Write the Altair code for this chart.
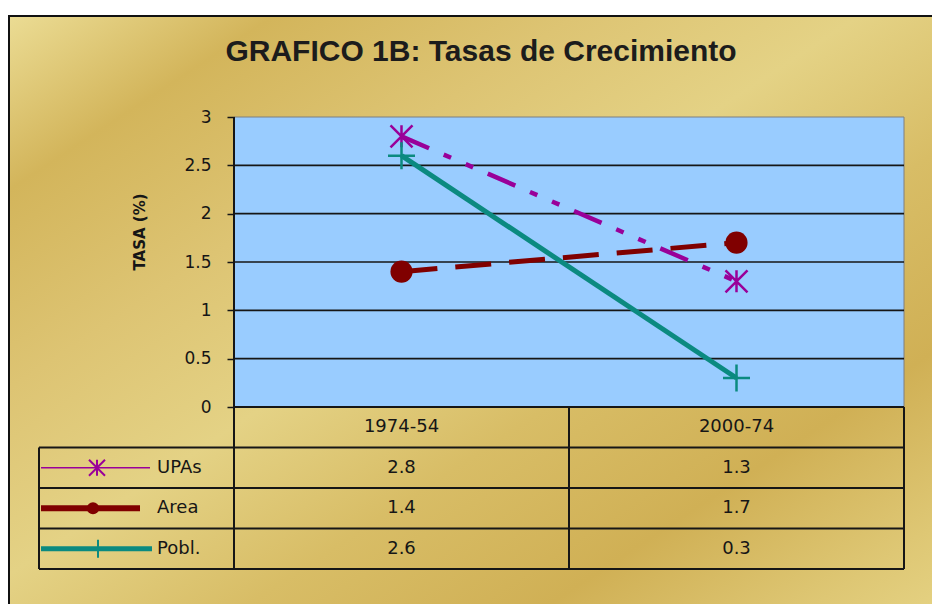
import altair as alt
import pandas as pd

# ---- data ----
categories = ["1974-54", "2000-74"]
series = ["UPAs", "Area", "Pobl."]
upas = [2.8, 1.3]
area = [1.4, 1.7]
pobl = [2.6, 0.3]
ytick_values = [0, 0.5, 1, 1.5, 2, 2.5, 3]
title_text = "GRAFICO 1B: Tasas de Crecimiento"
ytitle_text = "TASA (%)"

values_by_series = {"UPAs": upas, "Area": area, "Pobl.": pobl}
df = pd.DataFrame(
    [{"serie": s, "cat": c, "val": v}
     for s in series for c, v in zip(categories, values_by_series[s])]
)
one = pd.DataFrame({"k": [0]})

# ---- layout / style ----
W, H = 670, 290
TBL_BOTTOM = 452
LEFT_EDGE = -195
FONT = "DejaVu Sans"
INK = "#161616"
ASTERISK = "M-1,-1L1,1M-1,1L1,-1M0,-1L0,1"
PLUS = "M-1,0L1,0M0,-1L0,1"

style = {
    "UPAs": dict(color="#990099", width=4.5, dash=[30, 16, 8, 16, 8, 16], leg_w=1.6, leg_end=-84),
    "Area": dict(color="#800000", width=5, dash=[36, 18], leg_w=6, leg_end=-94),
    "Pobl.": dict(color="#0B8A80", width=5, dash=None, leg_w=5, leg_end=-82),
}

xscale = alt.Scale(domain=categories, paddingInner=0, paddingOuter=0)
xs = alt.X("cat:N", sort=categories, scale=xscale, axis=None)
yq = alt.Scale(domain=[0, 3], nice=False, zero=True)
row_scale = alt.Scale(domain=["hdr"] + series, range=[H, TBL_BOTTOM],
                      paddingInner=0, paddingOuter=0)

gold = alt.LinearGradient(
    gradient="linear", x1=0, y1=0, x2=1, y2=1,
    stops=[
        alt.GradientStop(offset=0.0, color="#EBDC94"),
        alt.GradientStop(offset=0.14, color="#D3B55B"),
        alt.GradientStop(offset=0.3, color="#DDC473"),
        alt.GradientStop(offset=0.45, color="#E4D285"),
        alt.GradientStop(offset=0.6, color="#D8BD66"),
        alt.GradientStop(offset=0.76, color="#D0B055"),
        alt.GradientStop(offset=0.9, color="#DEC774"),
        alt.GradientStop(offset=1.0, color="#E7D688"),
    ],
)

layers = []

# frame background
layers.append(alt.Chart(one).mark_rect(fill=gold, stroke="#111", strokeWidth=2).encode(
    x=alt.value(-225), x2=alt.value(720), y=alt.value(-101), y2=alt.value(520)))

# plot area background
layers.append(alt.Chart(one).mark_rect(fill="#99CCFF", stroke="#7F7F7F", strokeWidth=1).encode(
    x=alt.value(0), x2=alt.value(W), y=alt.value(0), y2=alt.value(H)))

# gridlines
layers.append(alt.Chart(pd.DataFrame({"v": ytick_values[1:-1]})).mark_rule(
    color=INK, strokeWidth=1.6).encode(
    y=alt.Y("v:Q", scale=yq, axis=None), x=alt.value(0), x2=alt.value(W)))

# table grid
rule = dict(color=INK, strokeWidth=2)
layers.append(alt.Chart(pd.DataFrame({"serie": series})).mark_rule(**rule).encode(
    y=alt.Y("serie:N", scale=row_scale, axis=None, bandPosition=0),
    x=alt.value(LEFT_EDGE), x2=alt.value(W)))
layers.append(alt.Chart(one).mark_rule(**rule).encode(
    y=alt.value(TBL_BOTTOM), x=alt.value(LEFT_EDGE), x2=alt.value(W)))
layers.append(alt.Chart(one).mark_rule(**rule).encode(
    y=alt.value(H), x=alt.value(0), x2=alt.value(W)))
layers.append(alt.Chart(one).mark_rule(**rule).encode(
    x=alt.value(0), y=alt.value(0), y2=alt.value(TBL_BOTTOM)))
layers.append(alt.Chart(pd.DataFrame({"cat": categories[1:]})).mark_rule(**rule).encode(
    x=alt.X("cat:N", sort=categories, scale=xscale, axis=None, bandPosition=0),
    y=alt.value(H), y2=alt.value(TBL_BOTTOM)))
layers.append(alt.Chart(one).mark_rule(**rule).encode(
    x=alt.value(W), y=alt.value(H), y2=alt.value(TBL_BOTTOM)))
layers.append(alt.Chart(one).mark_rule(**rule).encode(
    x=alt.value(LEFT_EDGE), y=alt.value(H + 40.5), y2=alt.value(TBL_BOTTOM)))

# series lines
first = True
for s in series:
    st = style[s]
    kw = dict(color=st["color"], strokeWidth=st["width"], strokeCap="butt")
    if st["dash"]:
        kw["strokeDash"] = st["dash"]
    if first:
        yaxis = alt.Axis(values=ytick_values, format="~g", grid=False, domain=False,
                         ticks=True, tickColor=INK, tickSize=7, tickWidth=1.5,
                         labelFont=FONT, labelFontSize=17, labelColor=INK,
                         labelPadding=16, title=None, zindex=1)
        first = False
    else:
        yaxis = None
    layers.append(alt.Chart(df).transform_filter(alt.datum.serie == s).mark_line(**kw).encode(
        x=xs, y=alt.Y("val:Q", scale=yq, axis=yaxis)))

# markers in plot
layers.append(alt.Chart(df).transform_filter(alt.datum.serie == "Area").mark_circle(
    color=style["Area"]["color"], size=490, opacity=1).encode(
    x=xs, y=alt.Y("val:Q", scale=yq, axis=None)))
layers.append(alt.Chart(df).transform_filter(alt.datum.serie == "UPAs").mark_point(
    shape=ASTERISK, size=484, filled=False, color=style["UPAs"]["color"],
    strokeWidth=2.5, opacity=1).encode(
    x=xs, y=alt.Y("val:Q", scale=yq, axis=None)))
layers.append(alt.Chart(df).transform_filter(alt.datum.serie == "Pobl.").mark_point(
    shape=PLUS, size=729, filled=False, color=style["Pobl."]["color"],
    strokeWidth=2.5, opacity=1).encode(
    x=xs, y=alt.Y("val:Q", scale=yq, axis=None)))

# table header and values
layers.append(alt.Chart(pd.DataFrame({"cat": categories, "row": ["hdr"] * len(categories)}))
              .mark_text(font=FONT, fontSize=18, color=INK, baseline="middle").encode(
    x=xs, y=alt.Y("row:N", scale=row_scale, axis=None), text="cat:N"))
layers.append(alt.Chart(df).mark_text(font=FONT, fontSize=18, color=INK, baseline="middle").encode(
    x=xs, y=alt.Y("serie:N", scale=row_scale, axis=None),
    text=alt.Text("val:Q", format=".1f")))

# legend column
leg = pd.DataFrame({"serie": series})
for s in series:
    st = style[s]
    layers.append(alt.Chart(leg).transform_filter(alt.datum.serie == s).mark_rule(
        color=st["color"], strokeWidth=st["leg_w"]).encode(
        y=alt.Y("serie:N", scale=row_scale, axis=None),
        x=alt.value(LEFT_EDGE + 2), x2=alt.value(st["leg_end"])))
layers.append(alt.Chart(leg).transform_filter(alt.datum.serie == "UPAs").mark_point(
    shape=ASTERISK, size=256, filled=False, color=style["UPAs"]["color"],
    strokeWidth=2, opacity=1).encode(
    y=alt.Y("serie:N", scale=row_scale, axis=None), x=alt.value(-137)))
layers.append(alt.Chart(leg).transform_filter(alt.datum.serie == "Area").mark_circle(
    color=style["Area"]["color"], size=150, opacity=1).encode(
    y=alt.Y("serie:N", scale=row_scale, axis=None), x=alt.value(-141)))
layers.append(alt.Chart(leg).transform_filter(alt.datum.serie == "Pobl.").mark_point(
    shape=PLUS, size=324, filled=False, color=style["Pobl."]["color"],
    strokeWidth=2, opacity=1).encode(
    y=alt.Y("serie:N", scale=row_scale, axis=None), x=alt.value(-136)))
layers.append(alt.Chart(leg).mark_text(font=FONT, fontSize=18, color=INK, align="left",
                                       baseline="middle").encode(
    y=alt.Y("serie:N", scale=row_scale, axis=None), x=alt.value(-77), text="serie:N"))

# titles
layers.append(alt.Chart(pd.DataFrame({"t": [title_text]})).mark_text(
    font="Liberation Sans", fontSize=30, fontWeight="bold", color="#1c1c1c",
    align="center", baseline="middle").encode(
    x=alt.value(247), y=alt.value(-65), text="t:N"))
layers.append(alt.Chart(pd.DataFrame({"t": [ytitle_text]})).mark_text(
    font=FONT, fontSize=15, fontWeight="bold", color=INK, angle=270,
    align="center", baseline="middle").encode(
    x=alt.value(-94), y=alt.value(115), text="t:N"))

chart = alt.layer(*layers).resolve_scale(y="independent").properties(
    width=W, height=H,
    autosize=alt.AutoSizeParams(type="none"),
    padding={"left": 226, "top": 109, "right": 28, "bottom": 197},
).configure_view(stroke=None).configure(background="white")

chart.save("out.html", embed_options={"renderer": "svg", "actions": False})
